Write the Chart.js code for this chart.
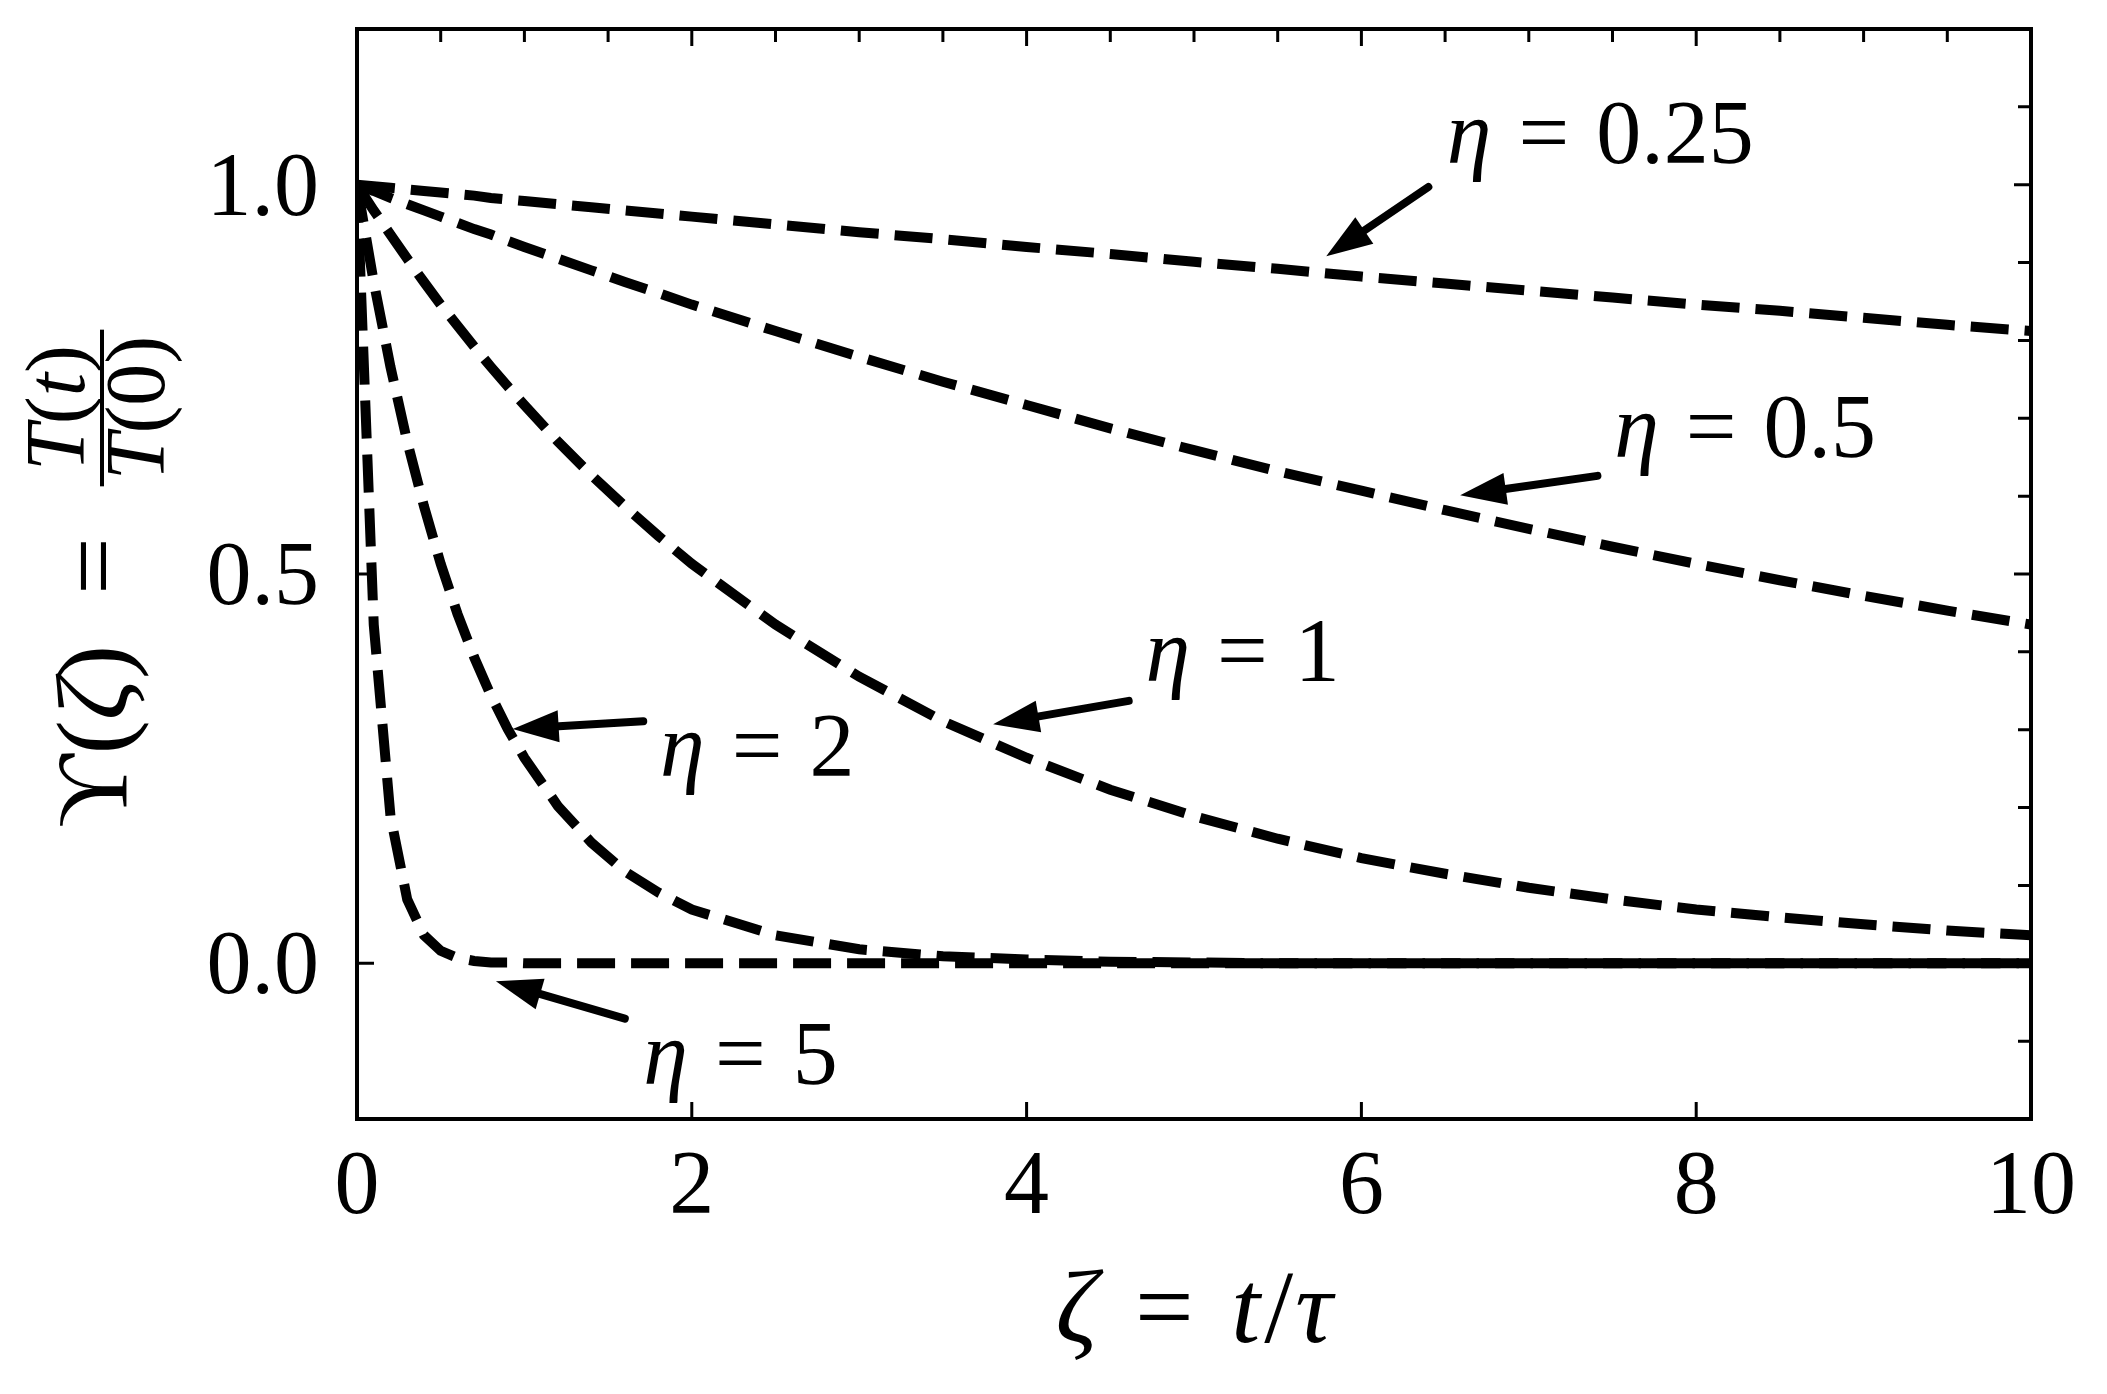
<!DOCTYPE html>
<html>
<head>
<meta charset="utf-8">
<script src="https://cdn.jsdelivr.net/npm/chart.js@4.4.1/dist/chart.umd.min.js"></script>
<style>
  html, body { margin: 0; padding: 0; background: #fff; }
  #wrap { width: 2107px; height: 1394px; }
</style>
</head>
<body>
<div id="wrap"><canvas id="chart" width="2107" height="1394"></canvas></div>
<script>
// zeta = t/tau sample points
const zeta = [0, 0.1, 0.2, 0.3, 0.4, 0.5, 0.6, 0.7, 0.8, 0.9, 1.0, 1.2, 1.4, 1.6, 1.8, 2.0,
              2.5, 3.0, 3.5, 4.0, 4.5, 5.0, 5.5, 6.0, 6.5, 7.0, 7.5, 8.0, 8.5, 9.0, 9.5, 10.0];

// Upsilon(zeta)
const eta025 = [1, 0.998, 0.996, 0.994, 0.992, 0.990, 0.988, 0.986, 0.983, 0.981, 0.979, 0.975, 0.971, 0.967, 0.963, 0.959,
                0.949, 0.939, 0.930, 0.920, 0.911, 0.901, 0.892, 0.882, 0.873, 0.864, 0.855, 0.846, 0.838, 0.829, 0.820, 0.812];
const eta05  = [1, 0.992, 0.983, 0.975, 0.967, 0.959, 0.951, 0.943, 0.936, 0.928, 0.920, 0.905, 0.890, 0.875, 0.861, 0.846,
                0.812, 0.779, 0.747, 0.717, 0.687, 0.659, 0.632, 0.607, 0.582, 0.558, 0.535, 0.513, 0.492, 0.472, 0.453, 0.435];
const eta1   = [1, 0.967, 0.936, 0.905, 0.875, 0.846, 0.819, 0.792, 0.766, 0.741, 0.717, 0.670, 0.627, 0.587, 0.549, 0.513,
                0.435, 0.368, 0.311, 0.264, 0.223, 0.189, 0.160, 0.135, 0.115, 0.097, 0.082, 0.069, 0.059, 0.050, 0.042, 0.036];
const eta2   = [1, 0.875, 0.766, 0.670, 0.587, 0.513, 0.449, 0.393, 0.344, 0.301, 0.264, 0.202, 0.155, 0.118, 0.091, 0.069,
                0.036, 0.018, 0.009, 0.005, 0.002, 0.001, 0, 0, 0, 0, 0, 0, 0, 0, 0, 0];
const eta5   = [1, 0.435, 0.189, 0.082, 0.036, 0.016, 0.007, 0.003, 0.001, 0.001, 0, 0, 0, 0, 0, 0,
                0, 0, 0, 0, 0, 0, 0, 0, 0, 0, 0, 0, 0, 0, 0, 0];

const seriesNames = ['0.25', '0.5', '1', '2', '5'];
const seriesValues = [eta025, eta05, eta1, eta2, eta5];

const xTicks = [0, 2, 4, 6, 8, 10];
const yTicks = [0, 0.5, 1.0];

// curve labels: text anchor (left, baseline) and arrow tail -> tip, in data units
const notes = [
  { eta: '0.25', tx: 6.51, ty: 1.028, tail: [6.40, 0.997], tip: [5.79, 0.908] },
  { eta: '0.5',  tx: 7.51, ty: 0.650, tail: [7.41, 0.626], tip: [6.59, 0.601] },
  { eta: '1',    tx: 4.71, ty: 0.362, tail: [4.61, 0.337], tip: [3.80, 0.307] },
  { eta: '2',    tx: 1.81, ty: 0.241, tail: [1.71, 0.311], tip: [0.93, 0.301] },
  { eta: '5',    tx: 1.71, ty: -0.155, tail: [1.60, -0.071], tip: [0.83, -0.023] },
];

const FONT = '"Liberation Serif", "DejaVu Serif", serif';
const SP = 0.3; // thick math space, em

function font(size, italic) {
  return (italic ? 'italic ' : '') + size + 'px ' + FONT;
}

// parts: [text, italic] or a number (space in em)
function mathWidth(ctx, parts, size) {
  let w = 0;
  for (const p of parts) {
    if (typeof p === 'number') { w += p * size; continue; }
    ctx.font = font(size, p[1]);
    w += ctx.measureText(p[0]).width;
  }
  return w;
}

function drawMath(ctx, parts, x, y, size, align) {
  let cx = x;
  if (align === 'center') cx -= mathWidth(ctx, parts, size) / 2;
  if (align === 'right') cx -= mathWidth(ctx, parts, size);
  ctx.textAlign = 'left';
  ctx.textBaseline = 'alphabetic';
  for (const p of parts) {
    if (typeof p === 'number') { cx += p * size; continue; }
    ctx.font = font(size, p[1]);
    ctx.fillText(p[0], cx, y);
    cx += ctx.measureText(p[0]).width;
  }
}

function drawArrow(ctx, x0, y0, x1, y1) {
  const dx = x1 - x0, dy = y1 - y0;
  const len = Math.hypot(dx, dy);
  const ux = dx / len, uy = dy / len;
  const headLen = 46, headHalf = 16;
  const bx = x1 - ux * headLen, by = y1 - uy * headLen;
  ctx.beginPath();
  ctx.moveTo(x0, y0);
  ctx.lineTo(bx + ux * 4, by + uy * 4);
  ctx.lineWidth = 8;
  ctx.lineCap = 'round';
  ctx.stroke();
  ctx.beginPath();
  ctx.moveTo(x1, y1);
  ctx.lineTo(bx - uy * headHalf, by + ux * headHalf);
  ctx.lineTo(bx + uy * headHalf, by - ux * headHalf);
  ctx.closePath();
  ctx.fill();
}

const decorations = {
  id: 'decorations',
  afterDatasetsDraw(chart) {
    const ctx = chart.ctx;
    const xs = chart.scales.x, ys = chart.scales.y;
    const a = chart.chartArea;
    ctx.save();
    ctx.fillStyle = '#000';
    ctx.strokeStyle = '#000';

    // inward ticks
    ctx.lineWidth = 3;
    ctx.lineCap = 'butt';
    ctx.beginPath();
    for (const v of xTicks) {
      if (v === 0 || v === 10) continue;
      const px = xs.getPixelForValue(v);
      ctx.moveTo(px, a.bottom); ctx.lineTo(px, a.bottom - 17);
    }
    for (let i = 1; i < 20; i++) {
      const px = xs.getPixelForValue(i * 0.5);
      const l = (i % 4 === 0) ? 17 : 13;
      ctx.moveTo(px, a.top); ctx.lineTo(px, a.top + l);
    }
    for (const v of yTicks) {
      const py = ys.getPixelForValue(v);
      ctx.moveTo(a.left, py); ctx.lineTo(a.left + 17, py);
    }
    for (let i = -1; i <= 11; i++) {
      const py = ys.getPixelForValue(i / 10);
      const l = (i % 5 === 0) ? 17 : 13;
      ctx.moveTo(a.right, py); ctx.lineTo(a.right - l, py);
    }
    ctx.stroke();

    // frame
    ctx.lineWidth = 4;
    ctx.strokeRect(a.left, a.top, a.right - a.left, a.bottom - a.top);

    // tick labels
    for (const v of xTicks) {
      drawMath(ctx, [[String(v), false]], xs.getPixelForValue(v), a.bottom + 94, 90, 'center');
    }
    for (const v of yTicks) {
      drawMath(ctx, [[v.toFixed(1), false]], a.left - 38, ys.getPixelForValue(v) + 30, 90, 'right');
    }

    // x title
    drawMath(ctx, [['ζ', true], 0.36, ['=', false], 0.36, ['t', true], 0.04, ['/', false], 0.02, ['τ', true]],
             (a.left + a.right) / 2, 1342, 104, 'center');

    // y title, rotated
    ctx.save();
    ctx.rotate(-Math.PI / 2);
    drawMath(ctx, [['ϒ', false], ['(', false], ['ζ', true], [')', false]], -828, 127, 102, 'left');
    drawMath(ctx, [['=', false]], -566, 127, 102, 'center');
    const fs = 84;
    const num = [['T', true], ['(', false], ['t', true], [')', false]];
    const den = [['T', true], ['(', false], ['0', false], [')', false]];
    const fw = Math.max(mathWidth(ctx, num, fs), mathWidth(ctx, den, fs)) + 12;
    drawMath(ctx, num, -408, 84, fs, 'center');
    drawMath(ctx, den, -408, 164, fs, 'center');
    ctx.fillRect(-408 - fw / 2, 100, fw, 4);
    ctx.restore();

    // curve labels with arrows
    for (const n of notes) {
      drawMath(ctx, [['η', true], SP, ['=', false], SP, [n.eta, false]],
               xs.getPixelForValue(n.tx), ys.getPixelForValue(n.ty), 90, 'left');
      drawArrow(ctx,
        xs.getPixelForValue(n.tail[0]), ys.getPixelForValue(n.tail[1]),
        xs.getPixelForValue(n.tip[0]), ys.getPixelForValue(n.tip[1]));
    }
    ctx.restore();
  }
};

const datasets = seriesValues.map((vals, k) => ({
  label: 'η = ' + seriesNames[k],
  data: zeta.map((z, i) => ({ x: z, y: vals[i] })),
  borderColor: '#000',
  borderWidth: 10,
  borderDash: [38, 16],
  pointRadius: 0,
  fill: false,
  tension: 0,
}));

new Chart(document.getElementById('chart'), {
  type: 'line',
  data: { datasets },
  options: {
    responsive: false,
    devicePixelRatio: 1,
    animation: false,
    layout: { padding: { top: 29, right: 76, left: 0, bottom: 0 } },
    plugins: { legend: { display: false }, tooltip: { enabled: false } },
    scales: {
      x: {
        type: 'linear', min: 0, max: 10,
        grid: { display: false }, border: { display: false },
        ticks: { display: false },
        afterFit: (s) => { s.height = 275; },
      },
      y: {
        type: 'linear', min: -0.2, max: 1.2,
        grid: { display: false }, border: { display: false },
        ticks: { display: false },
        afterFit: (s) => { s.width = 357; },
      },
    },
  },
  plugins: [decorations],
});
</script>
</body>
</html>
